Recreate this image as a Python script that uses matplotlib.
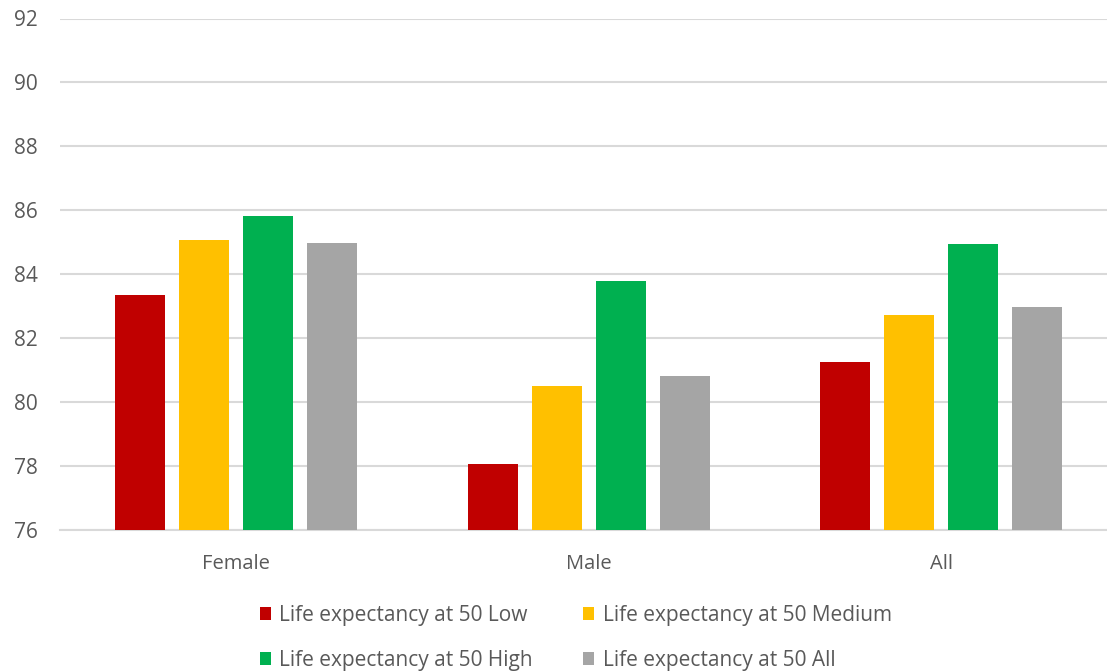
import matplotlib
matplotlib.use("Agg")
import matplotlib.pyplot as plt
import numpy as np

groups = ["Female", "Male", "All"]
series = ["Life expectancy at 50 Low", "Life expectancy at 50 Medium",
          "Life expectancy at 50 High", "Life expectancy at 50 All"]
low = [83.34, 78.05, 81.24]
medium = [85.07, 80.49, 82.73]
high = [85.82, 83.78, 84.94]
all_levels = [84.98, 80.81, 82.97]
yticks = [76, 78, 80, 82, 84, 86, 88, 90, 92]

colors = ["#C00000", "#FFC000", "#00B050", "#A5A5A5"]
text_grey = "#595959"

plt.rcParams["font.family"] = ["Open Sans", "DejaVu Sans"]

fig = plt.figure(figsize=(11.07, 6.72), dpi=100)
# the plot area runs a little past the right edge of the figure
ax = fig.add_axes([60 / 1107, 142 / 672, 1057.5 / 1107, 511.5 / 672])

x = np.arange(len(groups))
step = 0.1816
width = 0.142
bars = []
for i, (vals, col) in enumerate(zip([low, medium, high, all_levels], colors)):
    b = ax.bar(x + (i - 1.5) * step, vals, width, bottom=0, color=col,
               label=series[i], zorder=3)
    bars.append(b)

ax.set_ylim(76, 92)
ax.set_xlim(-0.5, 2.5)
ax.set_yticks(yticks)
ax.yaxis.grid(True, color="#D9D9D9", linewidth=1.5, zorder=0)
ax.set_axisbelow(True)
for side in ["left", "right", "top"]:
    ax.spines[side].set_visible(False)
ax.spines["bottom"].set_color("#D9D9D9")
ax.spines["bottom"].set_linewidth(1.5)
ax.tick_params(axis="y", length=0, pad=16, labelsize=15, labelcolor=text_grey)
ax.tick_params(axis="x", length=0, pad=17, labelsize=14.5, labelcolor=text_grey)
ax.set_xticks(x)
ax.set_xticklabels(groups)

# two rows: Low / Medium on top, High / All below
order = [0, 2, 1, 3]
handles = [bars[i] for i in order]
labels = [series[i] for i in order]
fig.legend(handles, labels, ncol=2, loc="center", bbox_to_anchor=(0.52, 0.051),
           frameon=False, fontsize=15, labelcolor=text_grey,
           handlelength=0.55, handleheight=0.55, handletextpad=0.4,
           columnspacing=2.4, labelspacing=1.15, borderpad=0)

fig.savefig("out.png", dpi=100)
